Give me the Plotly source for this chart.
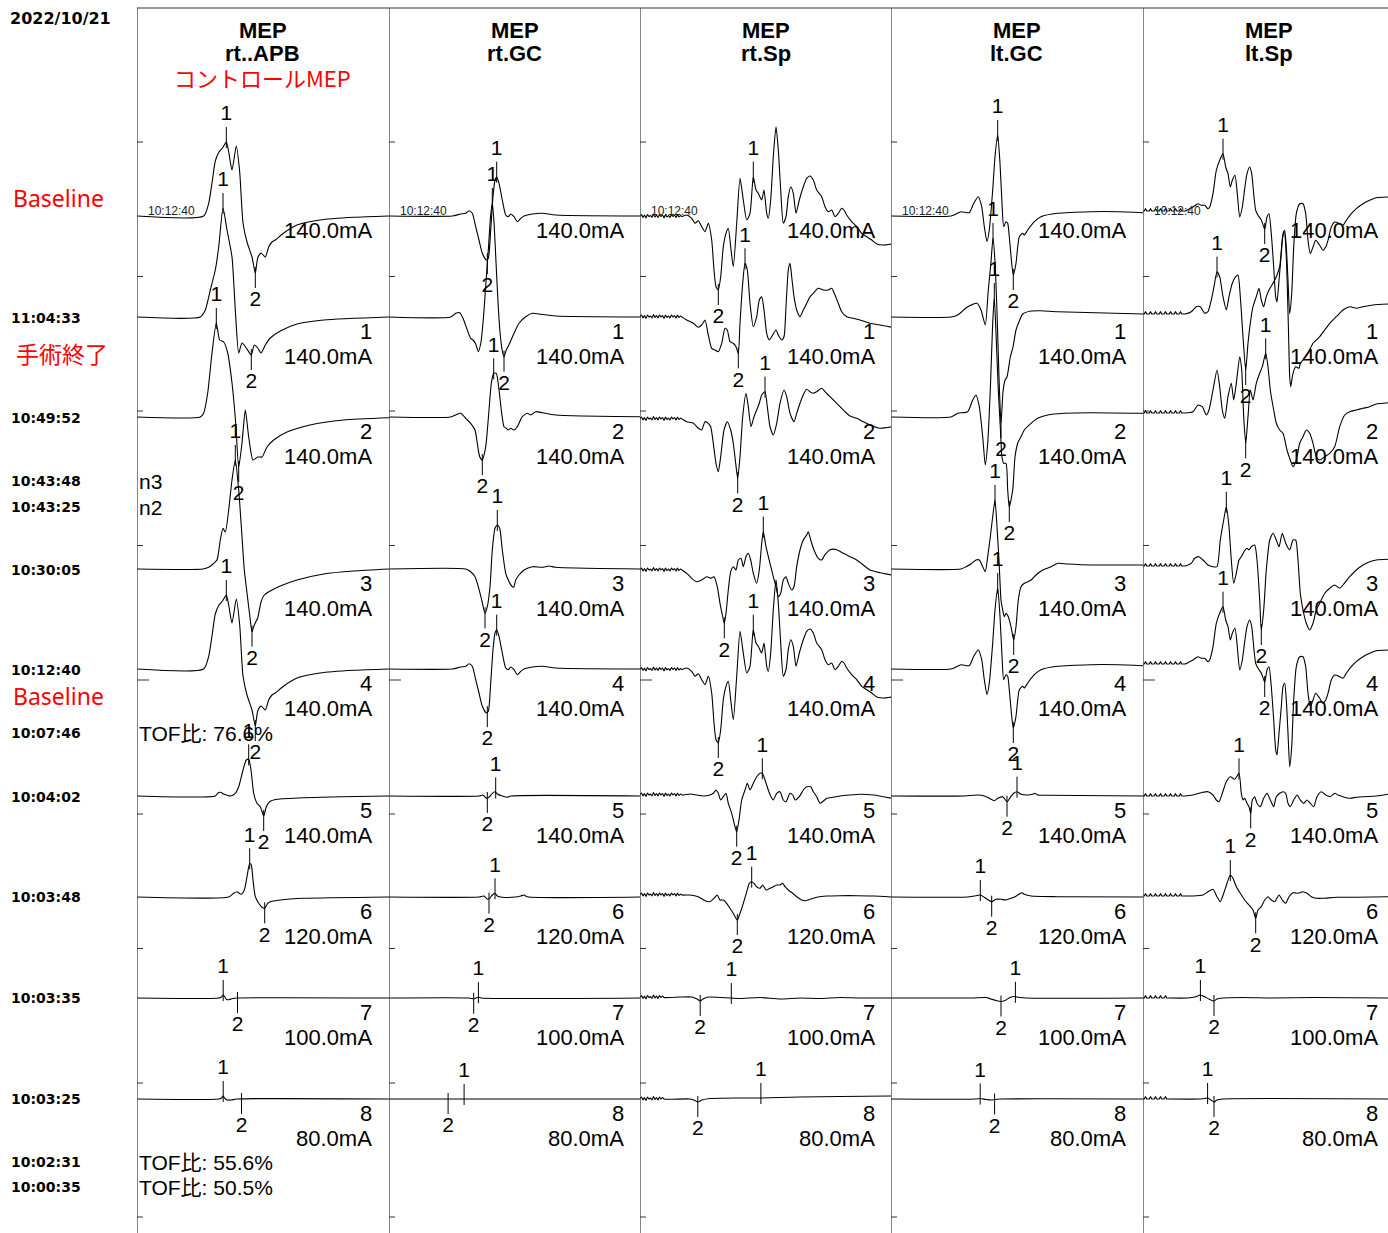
import numpy as np
import plotly.graph_objects as go

# ---------------- data (time in display samples, amplitude in display units) ----------------
columns = ["rt..APB", "rt.GC", "rt.Sp", "lt.GC", "lt.Sp"]
row_numbers = ["", "1", "2", "3", "4", "5", "6", "7", "8"]
stim_intensity = ["140.0mA", "140.0mA", "140.0mA", "140.0mA", "140.0mA",
                  "140.0mA", "120.0mA", "100.0mA", "80.0mA"]
time_texts = ["11:04:33", "10:49:52", "10:43:48", "10:43:25", "10:30:05", "10:12:40",
              "10:07:46", "10:04:02", "10:03:48", "10:03:35", "10:03:25", "10:02:31", "10:00:35"]
notes = ["n3", "n2", "TOF比: 76.6%", "TOF比: 55.6%", "TOF比: 50.5%"]
red_notes = ["Baseline", "手術終了", "Baseline"]

noise_c3 = [0, 2, -1, 1.5, -1.5, 2, 0, 1, -1, 2.5, -0.5, 1.5, -1, 2, 0, 1.5, -1.5, 2,
            -0.5, 1, -1, 2, 0, 1.5, -1, 2, -0.5, 1]
noise_c5 = [0, 0, 2.5, 0, 0, 0, 2.5, 0, 0, 0, 2.5, 0, 0, 0, 2.5, 0, 0, 0, 2.5, 0, 0, 0,
            2.5, 0, 0, 0, 2.5, 0, 0, 0, 2.5, 0, 0, 0]

# column 1  rt..APB
c1_r0 = [(0,0),(66.7,0),(71.7,12.7),(75,33),(78.3,55),(82,64),(85.5,68),(89.3,74),(91.7,64),(95,46),(99.3,70),(102.7,44),(106,-7),(110,-26),(115,-41),(118.3,-57),(120.7,-42),(124,-37),(128.3,-41),(131.7,-31),(135,-26),(138.3,-24),(146.7,-17),(160,-9),(183,-4),(217,-1.3),(252,0)]
c1_r1 = [(0,0),(63.3,0),(68.3,7),(73.3,27),(78.3,47),(81.7,70),(86,109),(90,87),(95,60),(98.3,7),(101.7,-36),(105,-26),(109.3,-31),(114.3,-38),(117.3,-28),(120.7,-31),(124,-36),(128.3,-28),(133.3,-21),(143.3,-14),(160,-7),(186.7,-3),(252,0)]
c1_r2 = [(0,0),(63.3,0),(66.7,4),(70.7,24),(75,64),(79.3,94),(82.7,77),(86.7,75),(90.7,64),(95,34),(98.7,-6),(101.7,-50),(105,-26),(108.3,7),(111.7,-20),(116,-43),(120.7,-40),(125,-40),(130,-30),(136.7,-23),(150,-15),(173,-8),(206.7,-3),(252,-0.7)]
c1_r3 = [(0,0),(66,0),(72,2),(76,5),(80,9),(83.3,29),(86,40.7),(88.3,37),(91.7,59),(95,89),(98.3,109),(101.7,79),(105,32.3),(107.3,-1),(110,-24),(113.3,-51),(115,-62.7),(117.3,-56),(120.7,-49),(124,-33),(127.3,-26),(133.3,-22),(143.3,-17),(160,-11),(186.7,-5),(216.7,-2),(252,0)]
c1_r5 = [(0,0),(78.3,0),(80.7,2.7),(83.3,3.7),(87.3,1.7),(93.3,0),(98.3,2.7),(101.7,9.3),(106,26),(109.3,36),(111.7,36.7),(114,26),(116.7,2.7),(120,-7.3),(123.3,-10.7),(126.7,-20),(129.3,-10.7),(132.7,-5.7),(140,-3.3),(166.7,-1.7),(252,0)]
c1_r6 = [(0,0),(91.7,0),(96.7,3.7),(100,5.3),(104,2.7),(107.3,7),(110,20.3),(112.7,33.7),(114.3,32),(116,17),(118.3,0.3),(121.7,-6.3),(125,-10.3),(127.7,-11.3),(130.7,-6.3),(133.3,-4.7),(143.3,-3),(166.7,-1.3),(252,0)]
c1_r7 = [(0,0),(82,0),(84.5,1),(86.2,3),(87.8,1),(89.5,-1.5),(92.5,-1.5),(95.5,-0.5),(100,0),(252,0)]
c1_r8 = [(0,0),(82,0),(84.5,1),(86.2,3),(88,0.5),(90,-1),(94,-1),(100,0),(252,0)]
c1_lat = [(89.3,118.3),(86,114.3),(79.3,101.7),(98.3,115),(89.3,118.3),(111.7,126.7),(112.7,127.7),(86.2,100.5),(86.2,104.5)]

# column 2  rt.GC
c2_r0 = [(0,0),(63.3,0),(71.7,2),(76.7,2.7),(80,5.3),(83.3,2.7),(86.7,-10.7),(90,-24),(93.3,-37.3),(97.3,-44),(99.3,-42.3),(101.7,-14),(104,19.3),(106,36),(107.7,39.3),(110,32.7),(113.3,16),(116.7,1),(119.3,-0.7),(121.7,2),(125,-0.7),(128.3,-5.7),(131.7,-2.3),(135,0),(143.3,2),(153.3,2.7),(166.7,1),(252,0)]
c2_r1 = [(0,0),(61.7,0),(66.7,3.7),(70.7,4.3),(74,-1.3),(78.3,-13),(81.7,-21.3),(84,-23),(86.7,-27),(89.3,-34.7),(92,-25),(94.5,0),(97,35),(99.5,70),(101.5,100),(103.3,114),(105,95),(107,55),(109,15),(111,-15),(113.3,-34),(115,-39.7),(117.3,-33),(120.7,-26.3),(125,-16.3),(130,-6.3),(136.7,0.3),(143.3,3.7),(150,3),(166.7,1),(252,0)]
c2_r2 = [(0,0),(61.7,0),(66.7,2),(71.7,3.7),(76.7,-1.3),(81.7,-6.3),(86,-13),(88.3,-26.3),(90.7,-39.7),(93.3,-43),(96.7,-29.7),(100,7),(102.3,33.7),(104.7,43.7),(107.3,43.7),(110,27),(112.7,3.7),(115,-9.7),(117.3,-11.3),(119.3,-13),(121.7,-11.3),(125,-13),(128.3,-9.7),(133.3,0.3),(138.3,3.7),(141.7,2),(146.7,5.3),(153.3,4.3),(166.7,2),(252,0.3)]
c2_r3 = [(0,0),(76.7,0),(81.7,-2.7),(86,-7.7),(89.3,-17.7),(92.7,-31),(96,-44.3),(98.3,-37.7),(101,-17.7),(103.3,19),(106,40.7),(108.3,44),(110.7,40.7),(113.3,19),(116.7,-4.3),(119.3,-11),(122.7,-17),(124.7,-18.3),(126.7,-11),(130,-6),(135,-1),(143.3,2.3),(153.3,1.7),(160,3),(166.7,1.7),(252,0)]
c2_r5 = [(0,0),(90,0),(94,1),(97.3,-2.3),(100,-1.3),(103.3,2.7),(106,4.3),(108.3,2),(113.3,0),(118.3,-1.3),(121.7,0),(252,0)]
c2_r6 = [(0,0),(90,0),(95,1),(98.3,-2.3),(100.7,-1.3),(103.3,2),(106,3.7),(108.3,1),(113.3,-0.3),(126.7,0),(131.7,1),(135,2),(138.3,0.3),(252,0)]
c2_r7 = [(0,0),(80,0),(84.7,-0.8),(87,0),(89.4,0.8),(92,0),(252,0)]
c2_r8 = [(0,0),(252,0)]
c2_lat = [(107.7,98.3),(103.3,115),(104.7,93.3),(108.3,96),(107.7,98.3),(106.7,98.3),(106,100),(89.4,84.7),(75.1,59.1)]

# column 3  rt.Sp
c3_r0 = [(42,-0.5),(46.7,1),(51.7,-2.3),(55,-7.3),(58.3,-4.7),(61.7,-10.7),(65,-15.7),(68.3,-7.3),(71.7,-24),(74,-54),(76,-70.7),(78.3,-74),(80.7,-60.7),(83.3,-30.7),(86,-17.3),(88.3,-12.3),(90.7,-30.7),(93.3,-50.7),(96.7,-7.3),(100,37.7),(103.3,16),(106.7,-4),(110,2.7),(113.3,39.3),(116,26),(118.3,22.7),(121.7,16),(124,26),(126.7,2.7),(128.3,-2.3),(130.7,16),(133.3,59.3),(136,89.3),(138.3,66),(140.7,26),(143.3,-7.3),(146,-0.7),(148.3,19.3),(150.7,29.3),(153.3,22.7),(156,2.7),(159.3,16),(163.3,29.3),(166.7,37.7),(170,40),(173.3,36),(176.7,26),(181.7,19.3),(185,9.3),(188.3,4.3),(191.7,6),(195,-0.7),(198.3,2.7),(201.7,7.7),(204,6),(206.7,1),(211.7,-5.7),(216.7,-10.7),(221.7,-17.3),(226.7,-20.7),(231.7,-24),(236.7,-28),(243.3,-29),(252,-28)]
c3_r1 = [(42,0),(46.7,-3),(53.3,-6.3),(58.3,-10.3),(61.7,-8),(65,-3),(68.3,-18),(71.7,-31.3),(75,-33),(78.3,-34.7),(81.7,-26.3),(85,-11.3),(87.3,-13),(90,-24.7),(93.3,-26.3),(96,-29.7),(98.3,-36.3),(100,-6.3),(102.7,33.7),(105,53.7),(107.3,47),(110,13.7),(113.3,-9.7),(116.7,0.3),(119.3,17),(121.7,20.3),(124,7),(126.7,-16.3),(129.3,-23),(132.7,-18),(136,-13),(138.3,-18),(141.7,-23),(144,-19.7),(146,10.3),(148.3,47),(150,53.7),(151.7,40.3),(154,20.3),(156.7,7),(160,0.3),(163.3,7),(166.7,13.7),(170,20.3),(173.3,23.7),(178.3,28.7),(183.3,27),(188.3,27),(191.7,28.7),(195,22),(198.3,13.7),(201.7,5.3),(206.7,0.3),(213.3,-1.3),(220,-3),(230,-6.3),(240,-8),(252,-10.3)]
c3_r2 = [(42,-2),(46.7,-4.7),(53.3,-6.3),(58.3,-11.3),(61.7,-13),(65,-4.7),(68.3,-6.3),(70.7,-9.7),(73.3,-26.3),(76,-46.3),(78.3,-54.7),(80.7,-39.7),(84,-13),(87.3,-4.7),(90.7,-13),(93.3,-26.3),(95.7,-46.3),(97.7,-61.3),(100,-39.7),(102.7,0.3),(106,23.7),(108.3,10.3),(111,-9.7),(114,0.3),(116.7,7),(119.3,13.7),(121.7,22),(125,25.3),(127.3,10.3),(130,-9.7),(133.3,-18),(136.7,-6.3),(140,13.7),(144,27),(146.7,20.3),(150,3.7),(154,-4.7),(156.7,3.7),(160,13.7),(164,23.7),(166.7,27.7),(170,25.3),(173.3,23.7),(176.7,25.3),(181.7,28.7),(185,25.3),(190,20.3),(195,15.3),(200,10.3),(205,5.3),(210,1),(216.7,-1.3),(223.3,-4.7),(230,-8),(240,-11.3),(252,-9.7)]
c3_r3 = [(42,-1),(46.7,-4.3),(51.7,-9.3),(56.7,-12.7),(61.7,-11),(66.7,-7.7),(70.7,-9.3),(74,-7.7),(77.3,-17.7),(80,-34.3),(82.7,-47.7),(84.3,-54.3),(86,-44.3),(88.3,-21),(90.7,-2.7),(93.3,2.3),(96,-1),(98.3,9),(101,10.7),(103.3,2.3),(106,12.3),(108.3,15.7),(110.7,9),(113.3,-4.3),(116.7,-14.3),(119.3,-1),(121.7,25.7),(123.3,37.3),(126,22.3),(130,5.7),(133.3,-7.7),(136,-17.7),(138.3,-27.7),(140.7,-24.3),(143.3,-11),(146,-7.7),(148.3,-14.3),(151.7,-21),(154,-17.7),(156.7,2.3),(160,19),(163.3,29),(166.7,34),(168.3,37.3),(170.7,29),(174,19),(178.3,10.7),(181.7,9),(185,14.3),(190,19.3),(196.7,19.3),(203.3,15.7),(210,12.3),(216.7,9),(223.3,4),(230,-1),(240,-3.7),(252,-6)]
c3_r5 = [(42,1),(50,2),(56.7,1),(63.3,0),(70,1),(73.3,2.7),(76,6),(78.3,2.7),(80.7,-4),(83.3,-0.7),(86,2.7),(88.3,-7.3),(91.7,-17.3),(95,-30.7),(96.7,-35.7),(99,-24),(101.7,-4),(105,6),(107.3,12.7),(110,6),(113.3,12.7),(116.7,19.3),(120,22.7),(122.3,22.7),(125,16),(128.3,6),(131,-0.7),(133.3,-4),(136.7,2.7),(140,4.3),(143.3,-4),(146,-5.7),(150,2.7),(152.7,1),(155.3,-4),(159.3,-0.7),(163.3,6),(166.7,9.3),(170.7,9.3),(173.3,4.3),(176.7,-0.7),(180,-7.3),(182.7,-5.7),(186.7,-2.3),(193.3,-1.3),(200,0),(210,1),(220,1.7),(233.3,1),(252,-2.3)]
c3_r6 = [(42,2),(50,2),(58.3,0.3),(65,-3.7),(70,-4.7),(74,-1.3),(77.3,2),(80,-3),(83.3,-3),(86.7,-6.3),(90,-11.3),(93.3,-16.3),(97.3,-23),(100,-16.3),(103.3,-6.3),(106.7,5.3),(109.3,13.7),(111.7,15.3),(114,13.7),(116.7,10.3),(120,8.7),(122.7,12),(126,7),(130,8.7),(133.3,10.3),(136.7,12),(140,12),(142.7,13.7),(145,10.3),(148.3,7),(152.7,3.7),(156.7,0.3),(161.7,-3),(165,-3.7),(170,-2.3),(176.7,-0.3),(186.7,1),(200,1.3),(216.7,1.3),(233.3,1),(252,0)]
c3_r7 = [(24,0.5),(40,1),(52,1),(57,-1),(60.2,-3),(63,-1),(68,1),(80,0.5),(91.3,0),(100,-0.5),(120,0.5),(140,-1),(160,0),(180,-0.5),(200,0.5),(220,0),(252,0)]
c3_r8 = [(24,0),(50,0),(55,-1.5),(57.8,-3),(62,-1),(70,0.5),(100,1),(120.9,1),(140,1.5),(160,2),(200,2.5),(252,3)]
c3_lat = [(113.3,78.3),(105,98.3),(125,97.7),(123.3,84.3),(113.3,78.3),(122.3,96.7),(111.7,97.3),(91.3,60.2),(120.9,57.8)]

# column 4  lt.GC
c4_r0 = [(0,0),(60,0),(65,2),(70,4.3),(78.3,3.3),(82.7,12.7),(87.3,19.3),(90.7,9.3),(93.3,-10.7),(96,-25.7),(98.3,-14),(101.7,26),(104,59.3),(106.7,81),(109,52.7),(111,12.7),(112.7,-10.7),(115,-5.7),(116.7,-7.3),(118.3,-20.7),(120.7,-47.3),(122.3,-59),(125,-47.3),(128.3,-20.7),(131.7,-17.3),(133.3,-19),(136.7,-14),(143.3,-5.7),(150,-0.7),(166.7,2.7),(200,4.3),(226.7,4.3),(252,3.3)]
c4_r1 = [(0,0),(60,0),(66.7,2),(76.7,10.3),(86,13.7),(90,7),(94.3,-8),(97.3,27),(100,55),(102,79),(104,55),(106,5),(108,-60),(110,-106),(112,-75),(114,-63),(116,-60),(119.3,-40),(122,-30),(125,-13),(128.3,-4),(131.7,3),(140,6),(150,6.3),(166.7,5.3),(252,3)]
c4_r2 = [(0,0),(60,0),(66.7,3.7),(76.7,5.3),(81.7,17),(85,22),(88.3,10.3),(91.7,-19.7),(94.3,-48),(96.7,-26.3),(99.3,27),(101.7,94),(103.3,119),(105.3,77),(107.3,27),(109.3,-10),(111,-40),(112.7,-46.3),(115,-46.3),(116.7,-73),(118.3,-90),(121.7,-73),(124,-40),(126.7,-26.3),(130,-19.7),(133.3,-13),(140,-6.3),(146.7,-1.3),(156.7,2),(173.3,3.7),(200,4.3),(252,3.7)]
c4_r3 = [(0,0),(70,0),(75,2.3),(80,5),(85,9),(88.3,9),(91.7,2.3),(94.3,-2.7),(96.7,12.3),(99.3,32.3),(101.7,52.3),(104,69),(106,42.3),(108.3,2.3),(110,-31),(111.7,-41),(113.3,-47.7),(115,-44.3),(117.3,-47.7),(120,-57.7),(122.7,-71),(125,-57.7),(127.3,-31),(130,-17.7),(133.3,-14.3),(136.7,-12.7),(140,-11),(145,-6),(151.7,-1),(160,2.3),(166.7,5.7),(176.7,5),(200,4),(226.7,4),(252,4)]
c4_r5 = [(0,0),(73.3,0),(86.7,1),(93.3,0),(98.3,-2.3),(103.3,-4.7),(106.7,-2.3),(111.7,-0.7),(116,-5.7),(119.3,-1.3),(122.7,2.7),(126,4.3),(130,1.7),(136.7,1),(141.7,1.7),(144,2.7),(146.7,1),(156.7,0.7),(252,0)]
c4_r6 = [(0,0),(76.7,0),(83.3,1),(89.3,2),(93.3,-0.3),(97.3,-3),(100.7,-4.7),(105,-2.3),(110,-2.3),(115,-3),(120,-1.3),(124,0.3),(128.3,3),(130.7,4.3),(133.3,2.7),(140,1),(166.7,0.3),(252,0)]
c4_r7 = [(0,0),(80,0),(95,0.5),(100,-1),(105,-2.5),(110,-3.5),(114,-2.5),(118,0),(122,1.5),(126,1),(135,0),(252,0)]
c4_r8 = [(0,0),(85,0),(89.2,0.5),(95,-0.5),(100,-1),(103.6,-0.5),(110,0),(252,0)]
c4_lat = [(106.7,122.3),(102,110),(103.3,118.3),(104,122.7),(106.7,122.3),(126,116),(89.3,100.7),(124.4,110),(89.2,103.6)]

# column 5  lt.Sp
c5_r0 = [(42,5),(50,9),(55,12.3),(58.3,10.7),(61.7,10.7),(65,7.3),(66.7,9),(70,22.3),(73.3,45.7),(77.3,57.3),(80,62.3),(82.7,49),(85,42.3),(87.3,29),(89.3,35.7),(92,40.7),(94.3,22.3),(96.7,-1),(99.3,9),(101.7,27.3),(104,42.3),(106.7,49),(108.7,42.3),(111,19),(112.7,5.7),(115,0.7),(118.3,-4),(121.7,-13),(124,-1),(126,2.3),(128.3,-17.7),(130.7,-51),(132.7,-81),(134,-86),(136,-64.3),(138.3,-37.7),(140,-17.7),(141.7,-14.3),(143.3,-31),(145,-64.3),(146.7,-97.7),(148.7,-77.7),(150.7,-31),(153.3,2.3),(156.7,12.3),(160,12.3),(162.7,2.3),(165,-24.3),(167.3,-37.7),(170,-31),(172.7,-24.3),(176.7,-29.3),(180,-34.3),(182.7,-31),(185,-24.3),(188.3,-11),(191.7,-6),(196.7,-7.7),(200,-9.3),(203.3,-4.3),(208.3,2.3),(213.3,7.3),(220,12.3),(226.7,15.7),(233.3,18.3),(245,19)]
c5_r1 = [(42,3),(48.3,5.3),(53.3,10.3),(57.3,10.3),(61.7,3.7),(65,5.3),(68.3,17),(71,30.3),(74,45.3),(76.7,40.3),(80,20.3),(83.3,7),(86,20.3),(89.3,33.7),(92.7,40.3),(95,42),(97.3,20.3),(100,-19.7),(102.7,-53),(105,-26.3),(107.3,-6.3),(110,10.3),(113.3,20.3),(116,28.7),(118.3,17),(120.7,10.3),(123.3,20.3),(126,27),(130,33.7),(133.3,40.3),(136.7,50.3),(139.3,77),(141.3,85.3),(143.3,60.3),(145.3,-6.3),(146.7,-59.7),(147.7,-69.7),(150,-56.3),(152.7,-49.7),(156,-51.3),(157.3,-46.3),(160,-43),(165,-36.3),(170,-26.3),(176.7,-19.7),(181.7,-13),(186.7,-6.3),(193.3,0.3),(200,7),(206.7,10.3),(213.3,8.7),(220,10.3),(230,12),(245,13)]
c5_r2 = [(42,4),(50,5.3),(55,12),(59.3,10.3),(63.3,2),(66,7),(70,27),(74,47),(76.7,30.3),(79.3,7),(81.7,-1.3),(85,20.3),(88.3,33.7),(90.7,17),(93.3,33.7),(96.7,60.3),(98.7,47),(100.7,0.3),(102.7,-26.3),(105,0.3),(107.3,27),(110,17),(113.3,33.7),(116.7,43.7),(119.3,50.3),(122.7,63.7),(125,50.3),(127.3,27),(130.7,7),(133.3,-6.3),(136.7,-13),(140,-16.3),(144,-33),(147.3,-43),(150,-49.7),(153.3,-43),(156.7,-26.3),(160,-19.7),(163.3,-13),(166.7,-16.3),(170,-26.3),(173.3,-39.7),(176.7,-43),(181.7,-39.7),(186.7,-36.3),(191.7,-29.7),(196.7,-9.7),(201.7,2),(206.7,5.3),(213.3,7),(220,8.7),(226.7,10.3),(233.3,13),(245,14.3)]
c5_r3 = [(42,3),(48.3,5.7),(51.7,10.7),(56,12.3),(60,9),(65,4),(70,2.3),(74,2.3),(77.3,29),(80.7,49),(83.3,62.3),(86,42.3),(88.3,9),(90.7,-14.3),(93.3,-4.3),(96,9),(98.3,12.3),(101,17.3),(104,20.7),(106,19),(108.3,22.3),(111.7,24),(114,9),(116.7,-31),(118.3,-61),(120.7,-41),(123.3,-1),(126.7,29),(130,35.7),(133.3,29),(136,22.3),(139.3,35.7),(142.7,25.7),(146.7,19),(150,29),(152.7,29),(155,9),(157.3,-24.3),(160,-41),(163.3,-54.3),(166.7,-61),(170,-54.3),(173.3,-41),(176.7,-34.3),(181.7,-24.3),(186.7,-19.3),(191.7,-16),(196.7,-19.3),(200,-16),(206.7,-7.7),(213.3,-1),(220,4),(226.7,7.3),(233.3,9),(245,9.7)]
c5_r5 = [(42,0),(50,1),(58.3,3.3),(65,4.3),(70,1),(73.3,-4),(76,-5.7),(79.3,2.7),(83.3,14.3),(87.3,19.3),(91.7,16.7),(96,22.7),(98.3,2.7),(100,-4),(101.7,-2.3),(104,-7.3),(106,-10.7),(107.7,-17.3),(109.3,-4),(111.7,-0.7),(114,-7.3),(117.3,-10.7),(120.7,-2.3),(124,2.7),(127.3,-4),(130.7,-10.7),(133.3,-0.7),(136.7,2.7),(140,4.3),(142.7,2.7),(145,-7.3),(147.3,-10.7),(150.7,-4),(154,1),(157.3,-4),(160.7,-7.3),(164,-4),(167.3,-7.3),(170.7,-10.7),(174,-0.7),(178.3,4.3),(182.7,1),(187.3,-0.7),(191.7,2.7),(195,1),(200,-0.7),(206.7,-2.3),(213.3,-1.3),(220,-0.7),(233.3,0),(245,1.7)]
c5_r6 = [(42,1),(50,1),(60,2),(65,5.3),(70,7.7),(74,0.3),(77.3,-4.7),(80.7,3.7),(84,13.7),(87.3,22),(90,18.7),(93.3,10.3),(97.3,3.7),(101.7,-3),(106,-8),(110,-13),(112.7,-21.3),(115,-13),(118.3,-9.7),(121.7,-3),(125,0.3),(128.3,-3),(131.7,-4.7),(136,2),(139.3,-3),(142.7,-6.3),(146,0.3),(150,4.3),(155,3.7),(160,5.3),(164,3.7),(168.3,0.3),(173.3,-1.3),(180,-1.3),(193.3,-0.3),(213.3,-0.3),(245,0.3)]
c5_r7 = [(24,0),(45,0),(52,1),(57.4,3),(62,1),(66,-1),(71,-3),(74,-1),(80,0),(100,0.5),(130,0),(170,0.5),(245,0)]
c5_r8 = [(24,0),(58,0),(62,0.5),(64.6,1),(68,-1),(71,-3),(74,-1),(80,0),(245,0)]
c5_lat = [(80,121.7),(74,102.7),(122.7,102.7),(83.3,118.3),(80,121.7),(96,107.7),(87.3,112.7),(57.4,71),(64.6,71)]

# rows: 0 = overlay of 10:12:40, 4 = 10:12:40 baseline (same recording)
col_traces = [
    [c1_r0, c1_r1, c1_r2, c1_r3, c1_r0, c1_r5, c1_r6, c1_r7, c1_r8],
    [c2_r0, c2_r1, c2_r2, c2_r3, c2_r0, c2_r5, c2_r6, c2_r7, c2_r8],
    [c3_r0, c3_r1, c3_r2, c3_r3, c3_r0, c3_r5, c3_r6, c3_r7, c3_r8],
    [c4_r0, c4_r1, c4_r2, c4_r3, c4_r0, c4_r5, c4_r6, c4_r7, c4_r8],
    [c5_r0, c5_r1, c5_r2, c5_r3, c5_r0, c5_r5, c5_r6, c5_r7, c5_r8],
]
col_lats = [c1_lat, c2_lat, c3_lat, c4_lat, c5_lat]
col_noise = [None, None, noise_c3, None, noise_c5]

# ---------------- layout constants ----------------
W, H = 1388, 1233
col_left = [137, 389, 640, 891, 1143]
col_right = [389, 640, 891, 1143, 1388]
row_base = [216, 317, 417, 569, 669, 796, 897, 998, 1099]
div_ticks = [142, 276.5, 411, 545.5, 680, 814, 948.5, 1083, 1217]
noise_dt = [0, 0, 1.5, 0, 1.25]
time_y = [318, 418, 481, 507, 570, 670, 733, 797, 897, 998, 1099, 1162, 1187]
notes_y = [481, 507, 733, 1162, 1187]
red_y = [198, 354, 696]
axes = ["x", "x2", "x3", "x4", "x5"]
LAT = "Liberation Sans, Arial, sans-serif"
JP = "Noto Sans CJK JP, Noto Sans, sans-serif"

fig = go.Figure()
annotations = []
shapes = []

for ci in range(5):
    xa = axes[ci]
    mk_x, mk_y, lab_x, lab_y, lab_t = [], [], [], [], []
    for ri in range(9):
        pts = col_traces[ci][ri]
        t = [p[0] for p in pts]
        a = [p[1] for p in pts]
        if col_noise[ci] is not None:
            nt, na = [], []
            for k, nv in enumerate(col_noise[ci]):
                tk = k * noise_dt[ci]
                if tk >= t[0]:
                    break
                nt.append(tk)
                na.append(a[0] + nv)
            t = nt + t
            a = na + a
        y = [row_base[ri] - v for v in a]
        fig.add_trace(go.Scatter(
            x=t, y=y, xaxis=xa, yaxis="y", mode="lines",
            line=dict(color="black", width=1.1, shape="spline", smoothing=0.6),
            hoverinfo="skip", showlegend=False))
        l1, l2 = col_lats[ci][ri]
        y1 = row_base[ri] - float(np.interp(l1, t, a))
        y2 = row_base[ri] - float(np.interp(l2, t, a))
        mk_x += [l1, l1, None, l2, l2, None]
        mk_y += [y1 - 15, y1 + 6, None, y2 - 6, y2 + 15, None]
        lab_x += [l1, l2]
        lab_y += [y1 - 27, y2 + 28]
        lab_t += ["1", "2"]
        # right-side labels
        if row_numbers[ri]:
            annotations.append(dict(x=237, y=row_base[ri] + 14, xref=xa, yref="y",
                                    text=row_numbers[ri], showarrow=False, xanchor="right",
                                    yanchor="middle", font=dict(family=LAT, size=22, color="black")))
            annotations.append(dict(x=237, y=row_base[ri] + 39, xref=xa, yref="y",
                                    text=stim_intensity[ri], showarrow=False, xanchor="right",
                                    yanchor="middle", font=dict(family=LAT, size=22, color="black")))
        else:
            annotations.append(dict(x=237, y=row_base[ri] + 14, xref=xa, yref="y",
                                    text=stim_intensity[ri], showarrow=False, xanchor="right",
                                    yanchor="middle", font=dict(family=LAT, size=22, color="black")))
    fig.add_trace(go.Scatter(x=mk_x, y=mk_y, xaxis=xa, yaxis="y", mode="lines",
                             line=dict(color="black", width=1), hoverinfo="skip", showlegend=False))
    fig.add_trace(go.Scatter(x=lab_x, y=lab_y, xaxis=xa, yaxis="y", mode="text", text=lab_t,
                             textposition="middle center", cliponaxis=False,
                             textfont=dict(family=LAT, size=21, color="black"),
                             hoverinfo="skip", showlegend=False))
    # in-trace time stamp
    annotations.append(dict(x=9, y=211, xref=xa, yref="y", text="10:12:40", showarrow=False,
                            xanchor="left", yanchor="middle", font=dict(family=LAT, size=12, color="#222")))
    # headers
    annotations.append(dict(x=125.5, y=30, xref=xa, yref="y", text="<b>MEP</b>", showarrow=False,
                            xanchor="center", yanchor="middle", font=dict(family=LAT, size=22, color="black")))
    annotations.append(dict(x=125.5, y=53, xref=xa, yref="y", text="<b>" + columns[ci] + "</b>",
                            showarrow=False, xanchor="center", yanchor="middle",
                            font=dict(family=LAT, size=22, color="black")))
    # column frame line and amplitude division ticks
    shapes.append(dict(type="line", xref=xa, yref="y", x0=0, x1=0, y0=8, y1=H,
                       line=dict(color="#333", width=1.2)))
    for k, ty in enumerate(div_ticks):
        shapes.append(dict(type="line", xref=xa, yref="y", x0=0, x1=12 if k == 4 else 6,
                           y0=ty, y1=ty, line=dict(color="#333", width=1)))

annotations.append(dict(x=125.5, y=77, xref="x", yref="y", text="コントロールMEP", showarrow=False,
                        xanchor="center", yanchor="middle", font=dict(family=JP, size=22, color="#ff0000")))
shapes.append(dict(type="line", xref="paper", yref="y", x0=col_left[0] / W, x1=1, y0=8, y1=8,
                   line=dict(color="#333", width=1.2)))

# left-hand labels
annotations.append(dict(x=8 / W, y=18, xref="paper", yref="y", text="<b>2022/10/21</b>", showarrow=False,
                        xanchor="left", yanchor="middle", font=dict(family="DejaVu Sans", size=16, color="black")))
for txt, ty in zip(time_texts, time_y):
    annotations.append(dict(x=9 / W, y=ty, xref="paper", yref="y", text="<b>" + txt + "</b>", showarrow=False,
                            xanchor="left", yanchor="middle", font=dict(family="DejaVu Sans", size=14, color="black")))
for txt, ty in zip(notes, notes_y):
    annotations.append(dict(x=137 / W, y=ty, xref="paper", yref="y", text=txt, showarrow=False,
                            xanchor="left", yanchor="middle",
                            font=dict(family="Liberation Sans, Noto Sans CJK JP", size=21, color="black")))
red_x = [11, 14, 11]
for txt, ty, rx in zip(red_notes, red_y, red_x):
    annotations.append(dict(x=rx / W, y=ty, xref="paper", yref="y", text=txt, showarrow=False,
                            xanchor="left", yanchor="middle",
                            font=dict(family="Noto Sans, Noto Sans CJK JP", size=23, color="#ff0000")))

layout_axes = {}
for ci in range(5):
    name = "xaxis" if ci == 0 else "xaxis%d" % (ci + 1)
    layout_axes[name] = dict(domain=[col_left[ci] / W, col_right[ci] / W],
                             range=[0, col_right[ci] - col_left[ci]], visible=False,
                             anchor="y", fixedrange=True)
layout_axes["yaxis"] = dict(domain=[0, 1], range=[H, 0], visible=False, anchor="x", fixedrange=True)

fig.update_layout(width=W, height=H, margin=dict(l=0, r=0, t=0, b=0),
                  paper_bgcolor="white", plot_bgcolor="white", showlegend=False,
                  annotations=annotations, shapes=shapes, **layout_axes)

fig.write_html("out.html")
